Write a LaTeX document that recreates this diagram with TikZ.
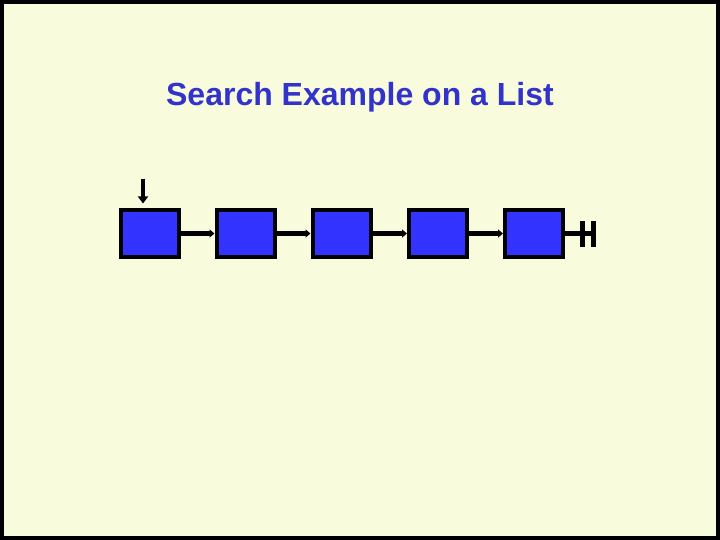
\documentclass[tikz,border=0pt]{standalone}
\usepackage{fontspec}
\setmainfont{Liberation Sans}
\usepackage{xcolor}
\usepackage{tikz}
\usetikzlibrary{arrows.meta}
\definecolor{paper}{HTML}{F8FCDC}
\definecolor{cell}{HTML}{3333FF}
\definecolor{title}{HTML}{3333CC}
\tikzset{
  frame/.style={draw=black, fill=paper, line width=4pt},
  cellbox/.style={draw=black, fill=cell, line width=4pt, minimum width=58pt, minimum height=46pt, inner sep=0pt},
  link/.style={draw=black, line width=5pt, -{Triangle[length=5pt,width=8pt]}},
  head/.style={draw=black, line width=4pt, -{Triangle[length=7pt,width=10pt]}},
  nil/.style={draw=black, line width=5pt},
  titlet/.style={text=title, font=\bfseries\fontsize{32}{36}\selectfont}
}
\newcommand{\NilAt}[1]{%
  \draw[nil] (#1) -- ++(17,0);
  \draw[nil] (#1) ++(17,-12) -- ++(0,25);
  \draw[nil] (#1) ++(28,-12) -- ++(0,25);
  \draw[nil] (#1) ++(17,0) -- ++(11,0);
}

\begin{document}
\begin{tikzpicture}[x=1pt,y=-1pt]
  \useasboundingbox (0,0) rectangle (720,540);
  \draw[frame] (2,2) rectangle (718,538);

  \node[titlet] (ttl) at (360,97) {Search Example on a List};

  \node[cellbox] (c1) at (150,233.5) {};
  \node[cellbox] (c2) at (245.5,233.5) {};
  \node[cellbox] (c3) at (341.5,233.5) {};
  \node[cellbox] (c4) at (438,233.5) {};
  \node[cellbox] (c5) at (534,233.5) {};

  \coordinate (top) at (143,179);
  \draw[head] (top) -- ([yshift=5pt]c1.north -| top);

  \draw[link] (c1) -- (c2);
  \draw[link] (c2) -- (c3);
  \draw[link] (c3) -- (c4);
  \draw[link] (c4) -- (c5);

  \NilAt{c5.east}
\end{tikzpicture}
\end{document}
